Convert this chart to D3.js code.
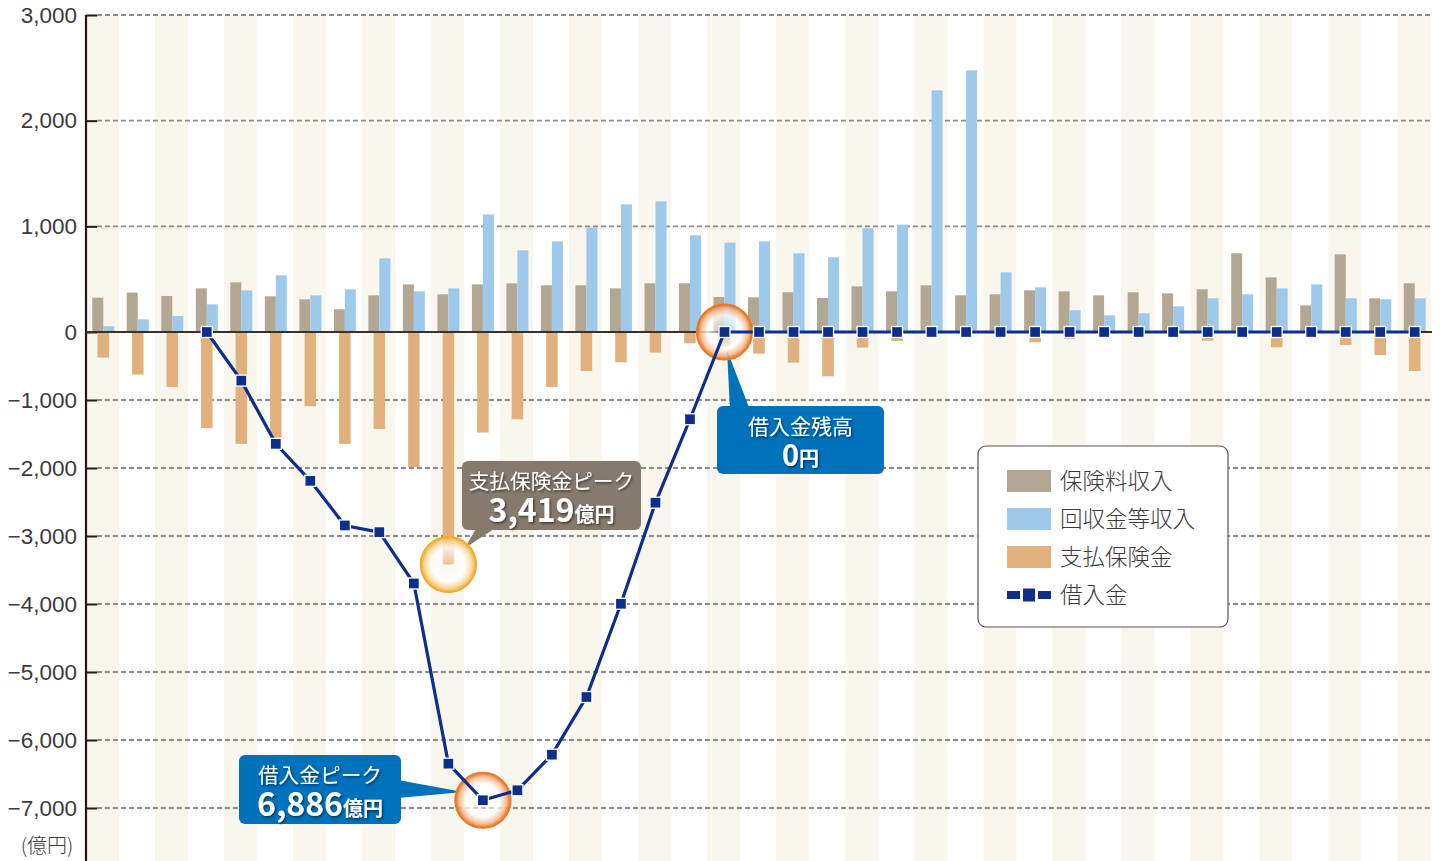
<!DOCTYPE html>
<html lang="ja">
<head>
<meta charset="utf-8">
<script src="https://cdnjs.cloudflare.com/ajax/libs/d3/7.8.5/d3.min.js"></script>
<style>
  body { margin: 0; background: #fff; }
  svg { display: block; font-family: 'Noto Sans CJK JP', 'Noto Sans', sans-serif; }
  .tick-label { fill: #3e3a39; font-size: 22.5px; font-weight: 300; }
  .legend-text { fill: #3e3a39; font-size: 22.5px; font-weight: 300; }
  .callout-text { fill: #fff; }
</style>
</head>
<body>
<svg id="chart"></svg>
<script>
// categories (no labels shown on the x axis)
const categories = [1,2,3,4,5,6,7,8,9,10,11,12,13,14,15,16,17,18,19,20,
  21,22,23,24,25,26,27,28,29,30,31,32,33,34,35,36,37,38,39]

// 保険料収入 (億円)
const premiumIncome = [325, 373, 341, 413, 470, 338, 309, 215, 347, 451,
  357, 451, 461, 442, 442, 413, 461, 461, 331, 328,
  376, 322, 432, 385, 442, 347, 357, 395, 385, 347,
  376, 366, 404, 745, 517, 252, 735, 319, 461]

// 回収金等収入 (億円)
const recoveryIncome = [54, 120, 151, 262, 394, 536, 347, 404, 697, 385,
  413, 1113, 773, 858, 990, 1208, 1236, 915, 846, 858,
  745, 707, 981, 1016, 2287, 2476, 565, 423, 205, 158,
  177, 243, 319, 357, 413, 451, 319, 309, 319]

// 支払保険金 (億円, drawn downward)
const claimsPaid = [-376, -626, -808, -1415, -1645, -1570, -1092, -1645, -1425, -1984,
  -3419, -1479, -1283, -808, -573, -445, -303, -166, -210, -318,
  -450, -651, -229, -132, 0, 0, 0, -151, -103, 0,
  0, 0, -127, 0, -225, 0, -191, -338, -573]

// 借入金 (億円)
const borrowings = [null, null, null, 0, -715, -1645, -2189, -2845, -2943, -3698,
  -6348, -6886, -6739, -6216, -5368, -3997, -2510, -1283, 0, 0,
  0, 0, 0, 0, 0, 0, 0, 0, 0, 0,
  0, 0, 0, 0, 0, 0, 0, 0, 0]

const yTicks = [3000, 2000, 1000, 0, -1000, -2000, -3000, -4000, -5000, -6000, -7000]

const w = 1445, h = 861
const left = 86, right = 1432

const svg = d3.select('#chart').attr('width', w).attr('height', h)

const x = d3.scaleBand()
    .domain(categories)
    .range([left, right])
    .padding(0)

const sub = d3.scaleBand()
    .domain(['premium', 'recovery'])
    .range([0, x.bandwidth()])
    .paddingInner(0)
    .paddingOuter(0.57)

// the picture uses a different unit length above and below zero
const y = d3.scaleLinear()
    .domain([-7000, 0, 3000])
    .range([808, 332, 15])

const defs = svg.append('defs')

function ringGradient(id, edge, mid) {
    const g = defs.append('radialGradient').attr('id', id)
    g.append('stop').attr('offset', '0%').attr('stop-color', '#fff').attr('stop-opacity', 0.2)
    g.append('stop').attr('offset', '60%').attr('stop-color', '#fff').attr('stop-opacity', 0.8)
    g.append('stop').attr('offset', '84%').attr('stop-color', mid).attr('stop-opacity', 0.85)
    g.append('stop').attr('offset', '100%').attr('stop-color', edge).attr('stop-opacity', 1)
}
ringGradient('ringOrange', '#e2650e', '#f6b585')
ringGradient('ringYellow', '#eea21c', '#f8d38a')

const shadow = defs.append('filter').attr('id', 'txtShadow')
    .attr('x', '-10%').attr('y', '-20%').attr('width', '130%').attr('height', '150%')
shadow.append('feDropShadow')
    .attr('dx', 1.2).attr('dy', 1.5).attr('stdDeviation', 1)
    .attr('flood-color', '#000').attr('flood-opacity', 0.55)

// background stripes
svg.append('g').selectAll('rect')
    .data(categories.filter((d, i) => i % 2 === 0))
    .enter().append('rect')
    .attr('x', d => x(d))
    .attr('y', y(3000))
    .attr('width', x.bandwidth() - 1.5)
    .attr('height', h - y(3000))
    .attr('fill', '#f9f6ee')

// grid lines
const grid = svg.append('g')
grid.selectAll('line')
    .data(yTicks.filter(d => d !== 0))
    .enter().append('line')
    .attr('x1', left + 11).attr('x2', right)
    .attr('y1', d => y(d)).attr('y2', d => y(d))
    .attr('stroke', '#8c8c8c')
    .attr('stroke-width', 1.8)
    .attr('stroke-dasharray', '5,3')

// bars
const barG = svg.append('g')
barG.selectAll('.premium')
    .data(premiumIncome)
    .enter().append('rect')
    .attr('class', 'premium')
    .attr('x', (d, i) => x(categories[i]) + sub('premium'))
    .attr('y', d => y(d))
    .attr('width', sub.bandwidth())
    .attr('height', d => y(0) - y(d))
    .attr('fill', '#b2a793')

barG.selectAll('.recovery')
    .data(recoveryIncome)
    .enter().append('rect')
    .attr('class', 'recovery')
    .attr('x', (d, i) => x(categories[i]) + sub('recovery'))
    .attr('y', d => y(d))
    .attr('width', sub.bandwidth())
    .attr('height', d => y(0) - y(d))
    .attr('fill', '#9fc9ea')

const claimW = 11.5
barG.selectAll('.claims')
    .data(claimsPaid)
    .enter().append('rect')
    .attr('class', 'claims')
    .attr('x', (d, i) => x(categories[i]) + x.bandwidth() / 2 - claimW / 2)
    .attr('y', y(0))
    .attr('width', claimW)
    .attr('height', d => y(d) - y(0))
    .attr('fill', '#e0b07d')

// axis
const yAxis = d3.axisLeft(y)
    .tickValues(yTicks)
    .tickSize(0)
    .tickPadding(9)
    .tickFormat(d => d3.format(',')(d).replace('-', '–'))
const axisG = svg.append('g')
    .attr('transform', 'translate(' + left + ',0)')
    .call(yAxis)
axisG.select('.domain').remove()
axisG.selectAll('text').attr('class', 'tick-label').attr('font-family', null).attr('font-size', null)
axisG.selectAll('.tick').append('line')
    .attr('x1', 0).attr('x2', 11)
    .attr('stroke', '#231815').attr('stroke-width', 2)

svg.append('line')
    .attr('x1', left).attr('x2', left)
    .attr('y1', y(3000)).attr('y2', h)
    .attr('stroke', '#231815').attr('stroke-width', 2.2)

svg.append('line')
    .attr('x1', left).attr('x2', right)
    .attr('y1', y(0)).attr('y2', y(0))
    .attr('stroke', '#3a302b').attr('stroke-width', 2)

svg.append('text')
    .attr('class', 'tick-label')
    .attr('x', 47).attr('y', 853)
    .attr('text-anchor', 'middle')
    .style('font-size', '20px')
    .text('(億円)')

// callouts
function callout(bx, by, bw, bh, color, pointer, line1, big, unit, s1, s2) {
    const g = svg.append('g')
    g.append('polygon').attr('points', pointer.map(p => p.join(',')).join(' ')).attr('fill', color)
    g.append('rect')
        .attr('x', bx).attr('y', by).attr('width', bw).attr('height', bh)
        .attr('rx', 6).attr('fill', color)
    const cx = bx + bw / 2
    g.append('text').attr('class', 'callout-text')
        .attr('x', cx).attr('y', by + 28)
        .attr('text-anchor', 'middle')
        .attr('filter', 'url(#txtShadow)')
        .style('font-size', s1 + 'px')
        .text(line1)
    const t = g.append('text').attr('class', 'callout-text')
        .attr('x', cx).attr('y', by + bh - 8)
        .attr('text-anchor', 'middle')
        .attr('filter', 'url(#txtShadow)')
        .style('font-weight', 700)
    t.append('tspan').style('font-size', s2 + 'px').text(big)
    t.append('tspan').style('font-size', '20px').text(unit)
}

callout(717, 406, 167, 68, '#0071bb', [[730, 410], [750, 410], [727, 350]],
    '借入金残高', '0', '円', 21, 29)
callout(462, 461, 179, 69, '#857a6d', [[478, 525], [500, 525], [465, 548]],
    '支払保険金ピーク', '3,419', '億円', 20.7, 32)
callout(239, 755, 162, 69, '#0071bb', [[398, 780], [398, 798], [463, 792]],
    '借入金ピーク', '6,886', '億円', 20.7, 32)

// highlight rings
const rings = [
    { i: 18, v: 0, fill: 'url(#ringOrange)', stroke: '#e87a22' },
    { i: 11, v: -6886, fill: 'url(#ringOrange)', stroke: '#e87a22' },
    { i: 10, v: -3419, fill: 'url(#ringYellow)', stroke: '#f0aa2a' }
]
svg.append('g').selectAll('circle')
    .data(rings)
    .enter().append('circle')
    .attr('cx', d => x(categories[d.i]) + x.bandwidth() / 2)
    .attr('cy', d => y(d.v))
    .attr('r', 28)
    .attr('fill', d => d.fill)
    .attr('stroke', d => d.stroke)
    .attr('stroke-width', 1.2)

// borrowing line
const pts = borrowings.map((v, i) => ({ c: categories[i], v: v }))
const line = d3.line()
    .defined(d => d.v !== null)
    .x(d => x(d.c) + x.bandwidth() / 2)
    .y(d => y(d.v))
svg.append('path')
    .datum(pts)
    .attr('d', line)
    .attr('fill', 'none')
    .attr('stroke', '#0d2e8a')
    .attr('stroke-width', 3.2)

svg.append('g').selectAll('rect')
    .data(pts.filter(d => d.v !== null))
    .enter().append('rect')
    .attr('x', d => x(d.c) + x.bandwidth() / 2 - 5.5)
    .attr('y', d => y(d.v) - 5.5)
    .attr('width', 11).attr('height', 11)
    .attr('fill', '#0d2e8a')
    .attr('stroke', '#fff')
    .attr('stroke-width', 1.3)

// legend
const lg = svg.append('g').attr('transform', 'translate(978,446)')
lg.append('rect')
    .attr('width', 250).attr('height', 181)
    .attr('rx', 8)
    .attr('fill', '#fff')
    .attr('stroke', '#5a5552')
    .attr('stroke-width', 1.2)

const legendItems = [
    { label: '保険料収入', color: '#b2a793' },
    { label: '回収金等収入', color: '#9fc9ea' },
    { label: '支払保険金', color: '#e0b07d' },
    { label: '借入金', color: '#0d2e8a', line: true }
]
legendItems.forEach((d, i) => {
    const row = lg.append('g').attr('transform', 'translate(29,' + (35 + i * 38) + ')')
    if (d.line) {
        row.append('rect').attr('x', 0).attr('y', -4).attr('width', 13).attr('height', 8).attr('fill', d.color)
        row.append('rect').attr('x', 16).attr('y', -6.5).attr('width', 12).attr('height', 13).attr('fill', d.color)
        row.append('rect').attr('x', 31).attr('y', -4).attr('width', 13).attr('height', 8).attr('fill', d.color)
    } else {
        row.append('rect').attr('x', 0).attr('y', -11).attr('width', 44).attr('height', 22).attr('fill', d.color)
    }
    row.append('text').attr('class', 'legend-text')
        .attr('x', 53).attr('y', 8)
        .text(d.label)
})
</script>
</body>
</html>
